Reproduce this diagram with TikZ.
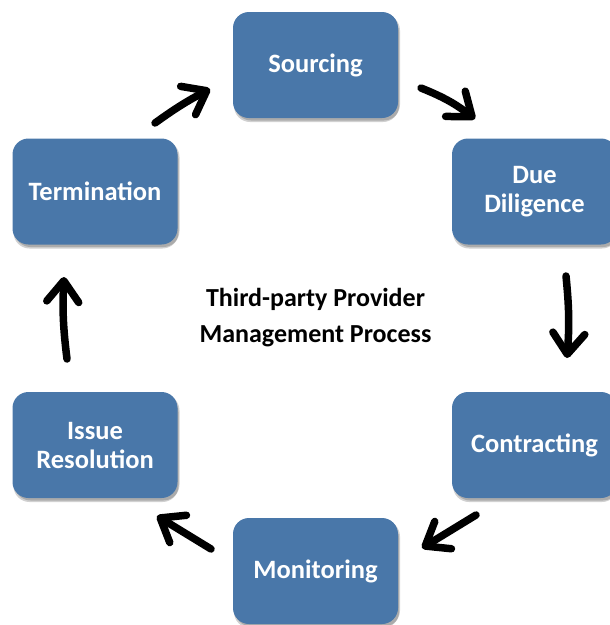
\documentclass[tikz,border=0pt]{standalone}
\usepackage{fontspec}
\setmainfont{Carlito}
\usetikzlibrary{arrows.meta,shadows}
\definecolor{boxblue}{RGB}{73,119,169}
\tikzset{
  stage/.style={draw=none, fill=boxblue, rounded corners=16pt,
    minimum width=165pt, minimum height=106pt, inner sep=2pt,
    text=white, align=center, font=\fontsize{26.5}{29}\selectfont\bfseries,
    drop shadow={shadow xshift=1pt, shadow yshift=-4pt, opacity=0.18, fill=black},
    drop shadow={shadow xshift=2pt, shadow yshift=-2.5pt, opacity=0.18, fill=black}},
  flow/.style={line width=7.5pt, line cap=round, line join=round,
    -{Straight Barb[length=21pt, width=32pt, line cap=round, line join=round]}},
  title/.style={align=center, font=\fontsize{26}{36}\selectfont\bfseries, text=black}
}
\begin{document}
\begin{tikzpicture}[x=1pt, y=-1pt]
\useasboundingbox (0,0) rectangle (610,625);
\node[stage] (src)  at (315.5,65)   {Sourcing};
\node[stage] (dd)   at (534.5,191.5){Due\\Diligence};
\node[stage] (con)  at (534.5,445)  {Contracting};
\node[stage] (mon)  at (315.5,571)  {Monitoring};
\node[stage] (iss)  at (95,445)     {Issue\\Resolution};
\node[stage] (term) at (95,191.5)   {Termination};
\node[title] (ttl) at (315.5,318) {Third-party Provider\\Management Process};
\coordinate (a1s) at (155,123); \coordinate (a1e) at (210,89);
\coordinate (a2s) at (421,88);  \coordinate (a2e) at (475,119);
\coordinate (a3s) at (566,276); \coordinate (a3e) at (567,358);
\coordinate (a4s) at (476,515); \coordinate (a4e) at (422,548);
\coordinate (a5s) at (211,549); \coordinate (a5e) at (157,516);
\coordinate (a6s) at (67,359);  \coordinate (a6e) at (64,277);
\draw[flow] (a1s) to[bend left=4] (a1e);
\draw[flow] (a2s) to[bend left=8] (a2e);
\draw[flow] (a3s) to[bend left=5] (a3e);
\draw[flow] (a4s) to (a4e);
\draw[flow] (a5s) to (a5e);
\draw[flow] (a6s) to[bend left=5] (a6e);
\end{tikzpicture}
\end{document}
